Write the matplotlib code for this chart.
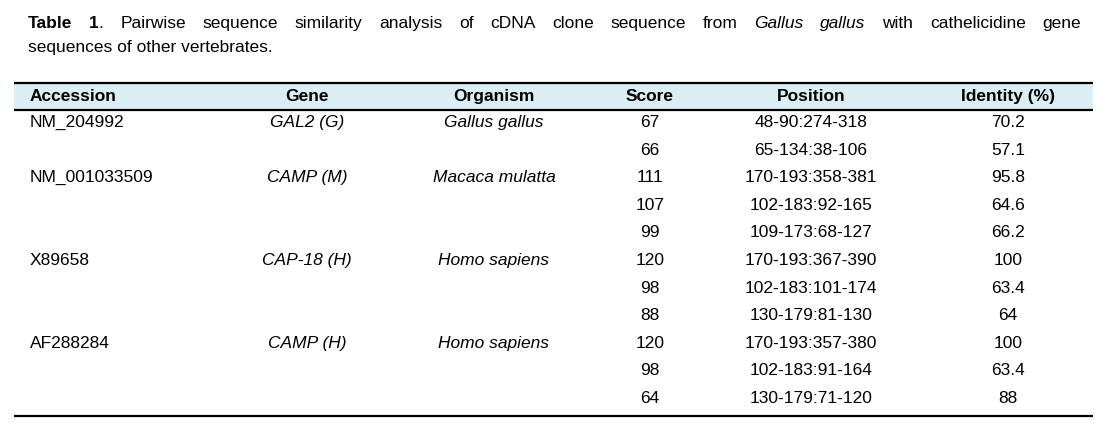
import matplotlib
matplotlib.use("Agg")
from matplotlib import pyplot as plt

plt.rcParams['font.family'] = ['Liberation Sans', 'DejaVu Sans']

# table data
headers = ['Accession', 'Gene', 'Organism', 'Score', 'Position', 'Identity (%)']
accession = ['NM_204992', '', 'NM_001033509', '', '', 'X89658', '', '', 'AF288284', '', '']
gene = ['GAL2 (G)', '', 'CAMP (M)', '', '', 'CAP-18 (H)', '', '', 'CAMP (H)', '', '']
organism = ['Gallus gallus', '', 'Macaca mulatta', '', '', 'Homo sapiens', '', '',
            'Homo sapiens', '', '']
score = ['67', '66', '111', '107', '99', '120', '98', '88', '120', '98', '64']
position = ['48-90:274-318', '65-134:38-106', '170-193:358-381', '102-183:92-165',
            '109-173:68-127', '170-193:367-390', '102-183:101-174', '130-179:81-130',
            '170-193:357-380', '102-183:91-164', '130-179:71-120']
identity = ['70.2', '57.1', '95.8', '64.6', '66.2', '100', '63.4', '64', '100', '63.4', '88']

# caption, words as lists of (text, weight, style)
line1 = [[('Table', 'bold', 'normal')], [('1', 'bold', 'normal'), ('.', 'normal', 'normal')]]
line1 += [[(w, 'normal', 'normal')] for w in
          'Pairwise sequence similarity analysis of cDNA clone sequence from'.split()]
line1 += [[('Gallus', 'normal', 'italic')], [('gallus', 'normal', 'italic')]]
line1 += [[(w, 'normal', 'normal')] for w in 'with cathelicidine gene'.split()]
line2 = 'sequences of other vertebrates.'

fs = 12.5
fig = plt.figure(figsize=(11.07, 4.33), dpi=100)
ax = fig.add_axes([0, 0, 1, 1])
ax.set_xlim(0, 1107)
ax.set_ylim(433, 0)
ax.axis('off')
renderer = fig.canvas.get_renderer()

# justified first caption line
x_left, x_right, y1 = 28, 1081, 28
pieces = []
widths = []
for word in line1:
    w = 0
    items = []
    for txt, wt, st in word:
        t = ax.text(0, y1, txt, fontsize=fs, fontweight=wt, fontstyle=st,
                    va='baseline', ha='left')
        ext = t.get_window_extent(renderer)
        items.append((t, w))
        w += ext.width
    pieces.append(items)
    widths.append(w)
gap = (x_right - x_left - sum(widths)) / (len(widths) - 1)
x = x_left
for items, w in zip(pieces, widths):
    for t, off in items:
        t.set_x(x + off)
    x += w + gap
ax.text(x_left, 52, line2, fontsize=fs, va='baseline', ha='left')

# table frame
x0, x1 = 14, 1093
ax.add_patch(plt.Rectangle((x0, 83), x1 - x0, 27, color='#dbeef3', lw=0, zorder=0))
for y in (83, 110, 416):
    ax.plot([x0, x1], [y, y], color='black', lw=1.6, solid_capstyle='butt')

col_x = [30, 307, 494, 650, 811, 1008]
col_ha = ['left', 'center', 'center', 'center', 'center', 'center']
for cx, ha, h in zip(col_x, col_ha, headers):
    ax.text(cx, 101, h, fontsize=fs, fontweight='bold', ha=ha, va='baseline')

columns = [accession, gene, organism, score, position, identity]
styles = ['normal', 'italic', 'italic', 'normal', 'normal', 'normal']
row_y0, row_h = 127, 27.6
for cx, ha, st, col in zip(col_x, col_ha, styles, columns):
    for i, val in enumerate(col):
        ax.text(cx, row_y0 + i * row_h, val, fontsize=fs, fontstyle=st, ha=ha, va='baseline')

fig.savefig('out.png', dpi=100)
